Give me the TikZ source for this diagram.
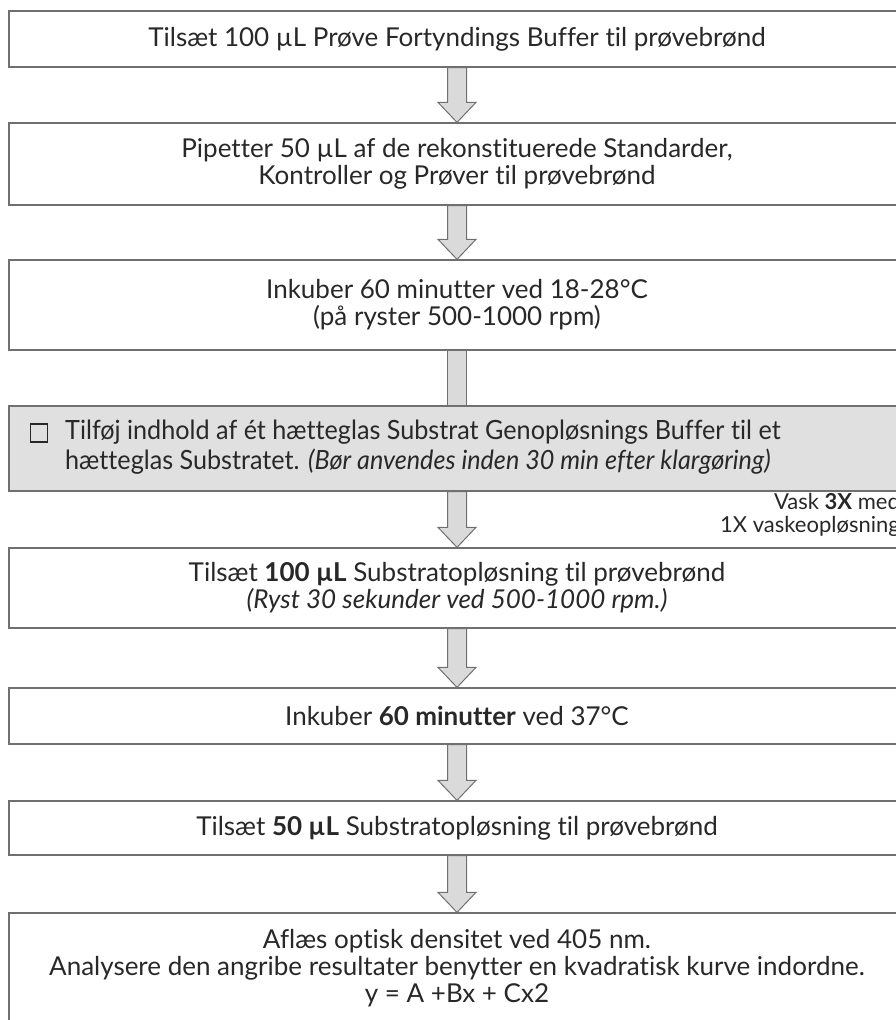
\documentclass[tikz,border=0pt]{standalone}
\usepackage{fontspec}
\setmainfont{Lato}[Ligatures=NoCommon]
\newfontfamily\narrowfont{Lato}[FakeStretch=0.95, Ligatures=NoCommon]
\usepackage{tikz}
\usetikzlibrary{calc}
\definecolor{frame}{RGB}{112,112,112}
\definecolor{shade}{RGB}{224,224,224}
\definecolor{arrowgray}{RGB}{218,218,218}
\definecolor{ink}{RGB}{40,40,40}

%% block arrow from one box to the next
\newcommand{\flowarrow}[2]{%
  \draw[arrowfill] ($(#1.south)+(-9.5,0)$) -- ($(#2.north)+(-9.5,20)$)
    -- ($(#2.north)+(-19,20)$) -- (#2.north) -- ($(#2.north)+(19,20)$)
    -- ($(#2.north)+(9.5,20)$) -- ($(#1.south)+(9.5,0)$) -- cycle;}

\begin{document}
\begin{tikzpicture}[x=1pt, y=1pt,
    stepbox/.style={draw=frame, line width=1.3pt, fill=white, minimum width=896pt,
      align=center, text=ink, font=\fontsize{26}{27}\selectfont, inner sep=0pt},
    arrowfill/.style={draw=frame, line width=1pt, fill=arrowgray, line join=miter}]
  \fill[white] (0,0) rectangle (896,-1020);
  \useasboundingbox (0,0) rectangle (896,-1020);

  %% Steps
  \node[stepbox, minimum height=56pt] (dilute) at (457,-39)
    {Tilsæt 100 µL Prøve Fortyndings Buffer til prøvebrønd};
  \node[stepbox, minimum height=82pt] (pipette) at (457,-164)
    {Pipetter 50 µL af de rekonstituerede Standarder,\\Kontroller og Prøver til prøvebrønd};
  \node[stepbox, minimum height=90pt] (incubate) at (457,-305)
    {Inkuber 60 minutter ved 18-28°C\\(på ryster 500-1000 rpm)};
  \node[stepbox, fill=shade, minimum height=85pt] (mix) at (457,-448.5) {};
  \node[draw=ink, line width=1.4pt, minimum width=17pt, minimum height=18pt, inner sep=0pt]
    (check) at (39,-433) {};
  \node[anchor=west, align=left, text=ink, inner sep=0pt,
    font=\narrowfont\fontsize{26.5}{30}\selectfont] (mixtext) at (65,-447)
    {Tilføj indhold af ét hætteglas Substrat Genopløsnings Buffer til et\\
     hætteglas Substratet. \textit{(Bør anvendes inden 30 min efter klargøring)}};
  \node[stepbox, minimum height=80pt] (substrate) at (457,-588)
    {Tilsæt \textbf{100 µL} Substratopløsning til prøvebrønd\\
     \textit{(Ryst 30 sekunder ved 500-1000 rpm.)}};
  \node[stepbox, minimum height=56pt] (incubatetwo) at (457,-716)
    {Inkuber \textbf{60 minutter} ved 37°C};
  \node[stepbox, minimum height=54pt] (stop) at (457,-828)
    {Tilsæt \textbf{50 µL} Substratopløsning til prøvebrønd};
  \node[stepbox, minimum height=110pt] (read) at (457,-968)
    {Aflæs optisk densitet ved 405 nm.\\
     Analysere den angribe resultater benytter en kvadratisk kurve indordne.\\
     y = A +Bx + Cx2};

  %% Wash note
  \node[anchor=east, align=right, text=ink, inner sep=0pt,
    font=\fontsize{22}{23}\selectfont] (wash) at (900,-515)
    {Vask \textbf{3X} med\\1X vaskeopløsning};

  %% Connectors
  \flowarrow{dilute}{pipette}
  \flowarrow{pipette}{incubate}
  \draw[arrowfill] ($(incubate.south)+(-9.5,0)$) rectangle ($(mix.north)+(9.5,0)$);
  \flowarrow{mix}{substrate}
  \flowarrow{substrate}{incubatetwo}
  \flowarrow{incubatetwo}{stop}
  \flowarrow{stop}{read}
\end{tikzpicture}
\end{document}
